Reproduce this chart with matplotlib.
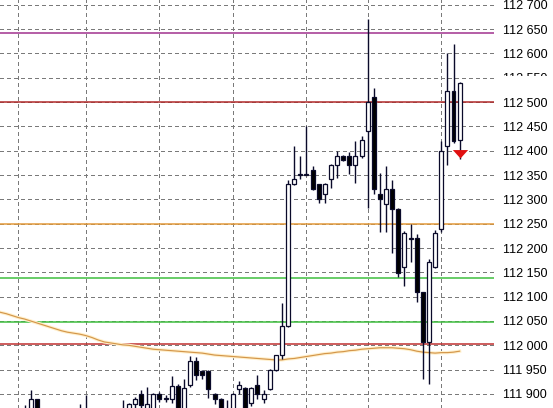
import matplotlib
matplotlib.use("Agg")
import matplotlib.pyplot as plt
from matplotlib.patches import Rectangle
from matplotlib.ticker import FuncFormatter, FixedLocator
import matplotlib.patheffects as pe

# ---------------- data ----------------
opens = [111830, 111845, 111835, 111840, 111850, 111850, 111889, 111850, 111830, 111820,
         111835, 111825, 111840, 111850, 111845, 111855, 111840, 111830, 111845, 111835,
         111855, 111860, 111879, 111899, 111865, 111860, 111899, 111890, 111890, 111917,
         111860, 111918, 111968, 111948, 111948, 111899, 111889, 111860, 111860, 111910,
         111912, 111881, 111918, 111889, 111910, 111949, 111980, 112040, 112331, 112351,
         112351, 112360, 112331, 112310, 112341, 112370, 112390, 112390, 112370, 112390,
         112441, 112511, 112310, 112290, 112321, 112280, 112160, 112219, 112220, 112109,
         112007, 112160, 112240, 112410, 112522, 112422]
highs = [111855, 111860, 111850, 111862, 111877, 111908, 111889, 111860, 111850, 111845,
         111855, 111850, 111862, 111879, 111898, 111865, 111858, 111850, 111860, 111865,
         111888, 111882, 111894, 111908, 111915, 111902, 111904, 111898, 111936, 111920,
         111930, 111978, 111977, 111950, 111950, 111902, 111892, 111887, 111902, 111926,
         111915, 111915, 111940, 111908, 111951, 111981, 112088, 112339, 112410, 112389,
         112450, 112368, 112332, 112333, 112372, 112399, 112392, 112397, 112420, 112430,
         112670, 112528, 112355, 112368, 112340, 112282, 112235, 112250, 112229, 112110,
         112177, 112238, 112419, 112601, 112619, 112541]
lows = [111815, 111825, 111815, 111828, 111832, 111840, 111830, 111820, 111810, 111800,
        111815, 111810, 111825, 111835, 111830, 111830, 111820, 111812, 111825, 111822,
        111840, 111845, 111870, 111865, 111860, 111850, 111884, 111884, 111881, 111850,
        111850, 111914, 111929, 111930, 111891, 111879, 111850, 111840, 111850, 111899,
        111850, 111876, 111889, 111881, 111908, 111947, 111971, 112038, 112330, 112341,
        112350, 112320, 112292, 112292, 112323, 112343, 112378, 112352, 112333, 112385,
        112282, 112312, 112232, 112232, 112190, 112141, 112122, 112172, 112090, 111930,
        111920, 112158, 112232, 112370, 112415, 112382]
closes = [111845, 111835, 111840, 111850, 111840, 111889, 111850, 111830, 111820, 111835,
          111825, 111840, 111850, 111845, 111855, 111840, 111830, 111845, 111835, 111855,
          111860, 111879, 111889, 111877, 111880, 111899, 111889, 111891, 111917, 111860,
          111912, 111968, 111939, 111939, 111910, 111889, 111860, 111855, 111899, 111918,
          111862, 111912, 111899, 111900, 111950, 111980, 112040, 112331, 112341, 112352,
          112352, 112321, 112300, 112331, 112370, 112390, 112380, 112370, 112390, 112422,
          112501, 112321, 112300, 112321, 112280, 112149, 112230, 112220, 112109, 112007,
          112171, 112230, 112400, 112522, 112420, 112540]
moving_avg = [112068, 112065, 112061, 112057, 112054, 112050, 112046, 112042, 112038, 112034,
              112030, 112027, 112025, 112023, 112020, 112016, 112011, 112007, 112005, 112003,
              112001, 112000, 111998, 111996, 111994, 111992, 111991, 111990, 111989, 111988,
              111987, 111986, 111985, 111984, 111982, 111980, 111979, 111978, 111977, 111976,
              111975, 111974, 111973, 111972, 111971, 111970, 111970, 111972, 111973, 111975,
              111977, 111979, 111981, 111983, 111984, 111986, 111987, 111989, 111990, 111992,
              111993, 111994, 111995, 111995, 111995, 111994, 111993, 111991, 111988, 111986,
              111985, 111984, 111985, 111985, 111986, 111988]
level_prices = [112641, 112501, 112250, 112139, 112048, 112002]
level_colors = ["#a0328e", "#b22a2a", "#e39a3a", "#3fbf3f", "#3fbf3f", "#c03030"]
price_ticks = list(range(111900, 112701, 50))
time_grid_idx = [3, 14, 26, 38, 50, 60, 72]
signal_idx = 75
signal_price = 112395

# ---------------- figure ----------------
W, H = 553, 408
fig = plt.figure(figsize=(W / 100, H / 100), dpi=100)
fig.patch.set_facecolor("white")
ax = fig.add_axes([0, 0, 494 / W, 1])
ax.set_facecolor("white")
for s in ax.spines.values():
    s.set_visible(False)

ax.set_xlim(-0.016, 80.61)
ax.set_ylim(111871.2, 112709.7)

# grid
ax.yaxis.set_major_locator(FixedLocator(price_ticks))
ax.xaxis.set_major_locator(FixedLocator(time_grid_idx))
ax.grid(True, color="#7a7a7a", linewidth=0.75, linestyle=(0, (3, 3)), zorder=0,
        antialiased=False)
ax.set_axisbelow(True)
ax.tick_params(axis="x", length=0, labelbottom=False)
ax.yaxis.tick_right()
ax.tick_params(axis="y", length=0, pad=6.5, labelsize=9, labelcolor="black")
ax.yaxis.set_major_formatter(FuncFormatter(lambda v, p: f"{int(v):,}".replace(",", " ")))
for lab in ax.get_yticklabels():
    lab.set_fontfamily("Liberation Sans")

# horizontal levels
for lv, col in zip(level_prices, level_colors):
    ax.axhline(lv, color=col, linewidth=1.1, zorder=1)

# moving average
xs = list(range(len(moving_avg)))
ax.plot(xs, moving_avg, color="#d4964a", linewidth=0.85, zorder=2,
        path_effects=[pe.Stroke(linewidth=2.4, foreground="#fff0cc"), pe.Normal()])

# candles
edge = "#0a0a2a"
idx = list(range(len(opens)))
ax.vlines(idx, lows, highs, color=edge, linewidth=1.0, zorder=3)
for i, o, c in zip(idx, opens, closes):
    bottom = min(o, c)
    height = max(abs(c - o), 0.8)
    face = "white" if c >= o else "black"
    ax.bar(i, height, bottom=bottom, width=0.65, color=face, edgecolor=edge,
           linewidth=0.9, zorder=4)

# sell signal arrow (flat downward triangle)
arrow_marker = [(-1.0, 0.45), (1.0, 0.45), (0.0, -0.65), (-1.0, 0.45)]
ax.plot([signal_idx], [signal_price], marker=arrow_marker, color="#e01010",
        markersize=11, markeredgewidth=0, zorder=5)

# partially hidden "112 550" label (cover lower part)
fig.patches.append(Rectangle((498 / W, (H - 86) / H), 55 / W, 10 / H,
                             transform=fig.transFigure, facecolor="white",
                             edgecolor="none", zorder=10))

fig.savefig("out.png", dpi=100, facecolor="white")
